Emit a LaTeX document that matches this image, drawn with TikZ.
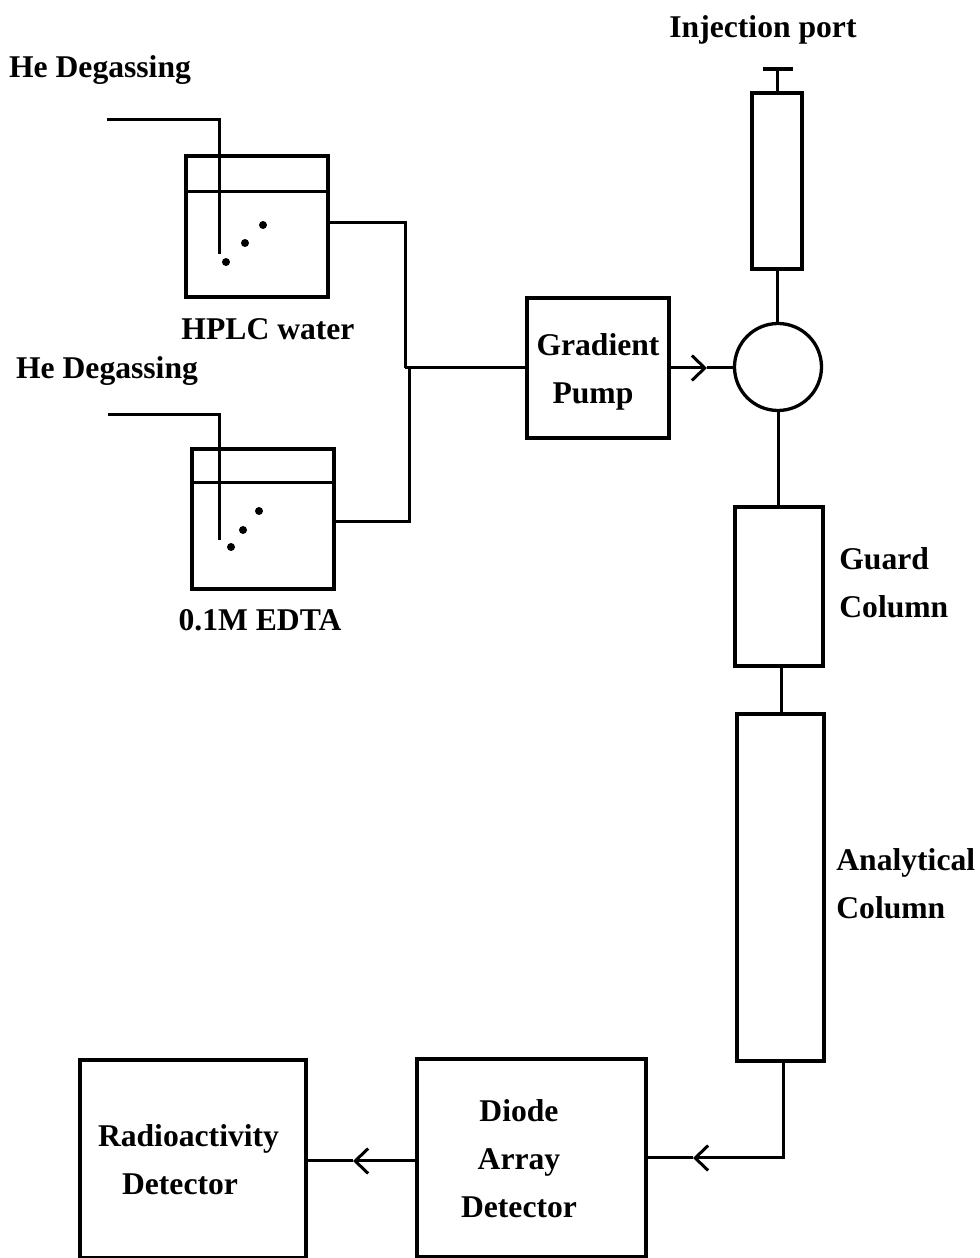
\documentclass[tikz,border=0pt]{standalone}
\usepackage{fontspec}
\setmainfont{Liberation Serif}
\usetikzlibrary{arrows.meta,calc}
\begin{document}
\begin{tikzpicture}[
    unit/.style={draw, line width=0.066cm, inner sep=0pt, outer sep=0pt},
    caption/.style={inner sep=0pt, align=left, font=\fontsize{18}{27.3}\selectfont\bfseries},
    boxtext/.style={caption, align=center},
    pipe/.style={line width=0.06cm},
    flow/.style={pipe, -{Straight Barb[length=0.26cm, width=0.50cm]}}
]
\useasboundingbox (0,0) rectangle (19.6,25.16);

% Solvent bottles
\node[unit, minimum width=2.84cm, minimum height=2.82cm] (water) at (5.14,20.63) {};
\node[unit, minimum width=2.84cm, minimum height=2.80cm] (edta) at (5.26,14.78) {};
\draw[pipe] ($(water.north west)!0.255!(water.south west)$) -- ($(water.north east)!0.255!(water.south east)$);
\draw[pipe] ($(edta.north west)!0.236!(edta.south west)$) -- ($(edta.north east)!0.236!(edta.south east)$);

% Pump, injector and columns
\node[unit, minimum width=2.84cm, minimum height=2.80cm] (pump) at (11.96,17.80) {};
\node[unit, minimum width=1.00cm, minimum height=3.52cm] (injector) at (15.54,21.54) {};
\node[unit, circle, minimum size=1.74cm] (valve) at (15.56,17.82) {};
\node[unit, minimum width=1.76cm, minimum height=3.18cm] (guard) at (15.58,13.43) {};
\node[unit, minimum width=1.74cm, minimum height=6.94cm] (analytical) at (15.61,7.41) {};

% Detectors
\node[unit, minimum width=4.58cm, minimum height=3.96cm] (diode) at (10.63,2.00) {};
\node[unit, minimum width=4.52cm, minimum height=3.96cm] (radio) at (3.86,1.98) {};

% Labels
\node[caption] (helabela) at (2.00,23.75) {He Degassing};
\node[caption] (helabelb) at (2.14,17.74) {He Degassing};
\node[caption] (portlabel) at (15.26,24.56) {Injection port};
\node[caption] (waterlabel) at (5.36,18.58) {HPLC water};
\node[caption] (edtalabel) at (5.20,12.76) {0.1M EDTA};
\node[caption, anchor=west] (guardlabel) at (16.78,13.50) {Guard\\Column};
\node[caption, anchor=west] (analyticallabel) at (16.72,7.48) {Analytical\\Column};
\node[boxtext] (pumptext) at ([yshift=-0.07cm]pump.center) {Gradient\\Pump\hspace*{0.2cm}};
\node[boxtext] (diodetext) at ([xshift=-0.25cm,yshift=-0.02cm]diode.center) {Diode\\Array\\Detector};
\node[boxtext] (radiotext) at ([xshift=-0.09cm,yshift=-0.02cm]radio.center) {Radioactivity\\Detector\hspace*{0.34cm}};

% Helium lines
\coordinate (hestarta) at (2.14,22.76);
\coordinate (heenda) at (4.38,20.08);
\coordinate (hestartb) at (2.16,16.86);
\coordinate (heendb) at (4.38,14.36);
\draw[pipe] (hestarta) -| (heenda);
\draw[pipe] (hestartb) -| (heendb);

% Bubbles
\foreach \x/\y in {4.52/19.92, 4.90/20.30, 5.26/20.66, 4.62/14.22, 4.86/14.56, 5.18/14.94}
    \fill (\x,\y) circle (0.08);

% Plunger
\coordinate (plunger) at (15.56,23.78);
\draw[pipe] (injector.north) -- (injector.north |- plunger);
\draw[line width=0.09cm] ([xshift=-0.3cm]plunger) -- ([xshift=0.3cm]plunger);

% Solvent lines to pump
\coordinate (jointa) at (8.10,17.80);
\coordinate (jointb) at (8.18,17.80);
\draw[pipe] ([yshift=0.07cm]water.east) -| (jointa);
\draw[pipe] ([yshift=-0.06cm]edta.east) -| (jointb);
\draw[pipe] (jointa) -- (pump.west);

% Flow path
\coordinate (markvalve) at (14.14,17.80);
\coordinate (markdiode) at (13.86,2.00);
\coordinate (markradio) at (7.06,1.94);
\draw[flow] (pump.east) -- (markvalve);
\draw[pipe] (markvalve) -- (valve.west |- markvalve);
\draw[pipe] (injector.south) -- (injector.south |- valve.north);
\draw[pipe] (valve.south) -- (valve.south |- guard.north);
\draw[pipe] ([xshift=0.04cm]guard.south) -- ([xshift=0.04cm]guard.south |- analytical.north);
\draw[flow] ([xshift=0.05cm]analytical.south) |- (markdiode);
\draw[pipe] (markdiode) -- (diode.east);
\draw[flow] (diode.west |- markradio) -- (markradio);
\draw[pipe] (markradio) -- (radio.east |- markradio);
\end{tikzpicture}
\end{document}
